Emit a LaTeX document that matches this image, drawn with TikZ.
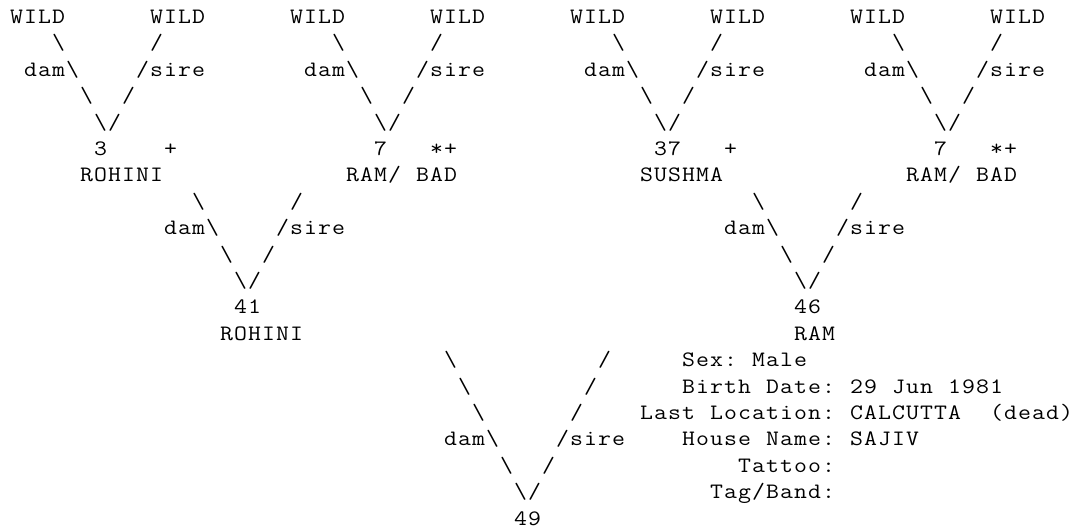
\documentclass[tikz,border=0pt]{standalone}
\usepackage{fontspec}
\newfontfamily\pedfont[FakeStretch=1.14]{Latin Modern Mono}
% one fixed 14pt cell per character, as on a line printer
\newcommand{\colgap}{\hspace*{14pt}}
\def\pedline#1{\pedlineaux#1\relax}
\def\pedlineaux#1{\ifx#1\relax\else\makebox[14pt][c]{#1}\expandafter\pedlineaux\fi}
\tikzset{cell/.style={anchor=base west, inner sep=0pt, outer sep=0pt,
  font=\pedfont\fontsize{22}{26.4}\selectfont}}

\begin{document}
\begin{tikzpicture}[x=14pt, y=-26.4pt]
  \useasboundingbox (-9.5pt,23.5pt) rectangle (1067.5pt,-507.5pt);
  % top row
  \node[cell] (wild1) at (0,0) {\pedline{WILD}};
  \node[cell] (wild2) at (10,0) {\pedline{WILD}};
  \node[cell] (wild3) at (20,0) {\pedline{WILD}};
  \node[cell] (wild4) at (30,0) {\pedline{WILD}};
  \node[cell] (wild5) at (40,0) {\pedline{WILD}};
  \node[cell] (wild6) at (50,0) {\pedline{WILD}};
  \node[cell] (wild7) at (60,0) {\pedline{WILD}};
  \node[cell] (wild8) at (70,0) {\pedline{WILD}};
  % parents of 3
  \node[cell] (p3dam1) at (3,1) {\pedline{\textbackslash}};
  \node[cell] (p3sire1) at (10,1) {\pedline{/}};
  \node[cell] (p3dam2) at (1,2) {\pedline{dam\textbackslash}};
  \node[cell] (p3sire2) at (9,2) {\pedline{/sire}};
  \node[cell] (p3dam3) at (5,3) {\pedline{\textbackslash}};
  \node[cell] (p3sire3) at (8,3) {\pedline{/}};
  \node[cell] (p3join) at (6,4) {\pedline{\textbackslash/}};
  \node[cell] (n3) at (6,5) {\pedline{3}};
  \node[cell] (n3mark) at (11,5) {\pedline{+}};
  \node[cell] (n3name) at (5,6) {\pedline{ROHINI}};
  % parents of 7 (left)
  \node[cell] (p7adam1) at (23,1) {\pedline{\textbackslash}};
  \node[cell] (p7asire1) at (30,1) {\pedline{/}};
  \node[cell] (p7adam2) at (21,2) {\pedline{dam\textbackslash}};
  \node[cell] (p7asire2) at (29,2) {\pedline{/sire}};
  \node[cell] (p7adam3) at (25,3) {\pedline{\textbackslash}};
  \node[cell] (p7asire3) at (28,3) {\pedline{/}};
  \node[cell] (p7ajoin) at (26,4) {\pedline{\textbackslash/}};
  \node[cell] (n7a) at (26,5) {\pedline{7}};
  \node[cell] (n7amark) at (30,5) {\pedline{*+}};
  \node[cell] (n7aname) at (24,6) {\pedline{RAM/\colgap BAD}};
  % parents of 37
  \node[cell] (p37dam1) at (43,1) {\pedline{\textbackslash}};
  \node[cell] (p37sire1) at (50,1) {\pedline{/}};
  \node[cell] (p37dam2) at (41,2) {\pedline{dam\textbackslash}};
  \node[cell] (p37sire2) at (49,2) {\pedline{/sire}};
  \node[cell] (p37dam3) at (45,3) {\pedline{\textbackslash}};
  \node[cell] (p37sire3) at (48,3) {\pedline{/}};
  \node[cell] (p37join) at (46,4) {\pedline{\textbackslash/}};
  \node[cell] (n37) at (46,5) {\pedline{37}};
  \node[cell] (n37mark) at (51,5) {\pedline{+}};
  \node[cell] (n37name) at (45,6) {\pedline{SUSHMA}};
  % parents of 7 (right)
  \node[cell] (p7bdam1) at (63,1) {\pedline{\textbackslash}};
  \node[cell] (p7bsire1) at (70,1) {\pedline{/}};
  \node[cell] (p7bdam2) at (61,2) {\pedline{dam\textbackslash}};
  \node[cell] (p7bsire2) at (69,2) {\pedline{/sire}};
  \node[cell] (p7bdam3) at (65,3) {\pedline{\textbackslash}};
  \node[cell] (p7bsire3) at (68,3) {\pedline{/}};
  \node[cell] (p7bjoin) at (66,4) {\pedline{\textbackslash/}};
  \node[cell] (n7b) at (66,5) {\pedline{7}};
  \node[cell] (n7bmark) at (70,5) {\pedline{*+}};
  \node[cell] (n7bname) at (64,6) {\pedline{RAM/\colgap BAD}};
  % parents of 41
  \node[cell] (p41dam1) at (13,7) {\pedline{\textbackslash}};
  \node[cell] (p41sire1) at (20,7) {\pedline{/}};
  \node[cell] (p41dam2) at (11,8) {\pedline{dam\textbackslash}};
  \node[cell] (p41sire2) at (19,8) {\pedline{/sire}};
  \node[cell] (p41dam3) at (15,9) {\pedline{\textbackslash}};
  \node[cell] (p41sire3) at (18,9) {\pedline{/}};
  \node[cell] (p41join) at (16,10) {\pedline{\textbackslash/}};
  \node[cell] (n41) at (16,11) {\pedline{41}};
  \node[cell] (n41name) at (15,12) {\pedline{ROHINI}};
  % parents of 46
  \node[cell] (p46dam1) at (53,7) {\pedline{\textbackslash}};
  \node[cell] (p46sire1) at (60,7) {\pedline{/}};
  \node[cell] (p46dam2) at (51,8) {\pedline{dam\textbackslash}};
  \node[cell] (p46sire2) at (59,8) {\pedline{/sire}};
  \node[cell] (p46dam3) at (55,9) {\pedline{\textbackslash}};
  \node[cell] (p46sire3) at (58,9) {\pedline{/}};
  \node[cell] (p46join) at (56,10) {\pedline{\textbackslash/}};
  \node[cell] (n46) at (56,11) {\pedline{46}};
  \node[cell] (n46name) at (56,12) {\pedline{RAM}};
  % parents of 49
  \node[cell] (p49dam1) at (31,13) {\pedline{\textbackslash}};
  \node[cell] (p49sire1) at (42,13) {\pedline{/}};
  \node[cell] (p49dam2) at (32,14) {\pedline{\textbackslash}};
  \node[cell] (p49sire2) at (41,14) {\pedline{/}};
  \node[cell] (p49dam3) at (33,15) {\pedline{\textbackslash}};
  \node[cell] (p49sire3) at (40,15) {\pedline{/}};
  \node[cell] (p49dam4) at (31,16) {\pedline{dam\textbackslash}};
  \node[cell] (p49sire4) at (39,16) {\pedline{/sire}};
  \node[cell] (p49dam5) at (35,17) {\pedline{\textbackslash}};
  \node[cell] (p49sire5) at (38,17) {\pedline{/}};
  \node[cell] (p49join) at (36,18) {\pedline{\textbackslash/}};
  \node[cell] (n49) at (36,19) {\pedline{49}};
  % details of 49
  \node[cell] (sex) at (48,13) {\pedline{Sex:\colgap Male}};
  \node[cell] (birth) at (48,14) {\pedline{Birth\colgap Date:\colgap 29\colgap Jun\colgap 1981}};
  \node[cell] (location) at (45,15) {\pedline{Last\colgap Location:\colgap CALCUTTA\colgap\colgap(dead)}};
  \node[cell] (house) at (48,16) {\pedline{House\colgap Name:\colgap SAJIV}};
  \node[cell] (tattoo) at (52,17) {\pedline{Tattoo:}};
  \node[cell] (tagband) at (50,18) {\pedline{Tag/Band:}};
\end{tikzpicture}
\end{document}
